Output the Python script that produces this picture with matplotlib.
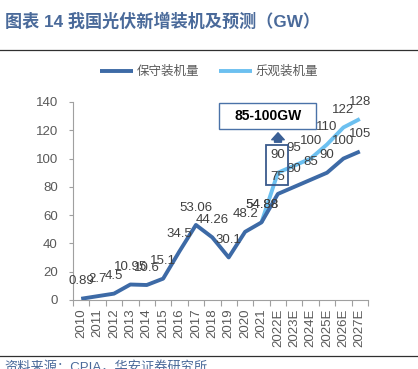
import matplotlib
matplotlib.use("Agg")
import matplotlib.pyplot as plt
import numpy as np
from matplotlib.patches import Rectangle, FancyArrowPatch

plt.rcParams['font.family'] = ['Liberation Sans', 'Noto Sans CJK SC', 'DejaVu Sans']

years = ["2010", "2011", "2012", "2013", "2014", "2015", "2016", "2017", "2018",
         "2019", "2020", "2021", "2022E", "2023E", "2024E", "2025E", "2026E", "2027E"]
conservative = [0.89, 2.7, 4.5, 10.95, 10.6, 15.1, 34.5, 53.06, 44.26, 30.1, 48.2,
                54.88, 75, 80, 85, 90, 100, 105]
optimistic = [np.nan] * 11 + [54.88, 90, 95, 100, 110, 122, 128]
cons_labels = ["0.89", "2.7", "4.5", "10.95", "10.6", "15.1", "34.5", "53.06", "44.26",
               "30.1", "48.2", "54.88", "75", "80", "85", "90", "100", "105"]
opt_labels = [None] * 11 + ["54.88", "90", "95", "100", "110", "122", "128"]
yticks = [0, 20, 40, 60, 80, 100, 120, 140]

W, H = 418, 369
fig = plt.figure(figsize=(W / 100, H / 100), dpi=100)
ax = fig.add_axes([73 / W, (H - 300) / H, (368 - 73) / W, (300 - 102) / H])

dark = "#3d6aa6"
light = "#6cc0f0"
grey = "#595959"

x = np.arange(len(years))
ax.plot(x, optimistic, color=light, lw=2.8, solid_capstyle='butt', label="乐观装机量", zorder=2)
ax.plot(x, conservative, color=dark, lw=2.8, solid_capstyle='butt', label="保守装机量", zorder=3)

for xi, v, t in zip(x, conservative, cons_labels):
    ax.annotate(t, (xi, v), xytext=(0, 12.5), textcoords='offset points',
                ha='center', va='center', fontsize=9.5, color="#404040", zorder=5)
for xi, v, t in zip(x, optimistic, opt_labels):
    if t is None:
        continue
    ax.annotate(t, (xi, v), xytext=(0, 12.5), textcoords='offset points',
                ha='center', va='center', fontsize=9.5, color="#404040", zorder=5)

ax.set_xlim(-0.5, len(years) - 0.5)
ax.set_ylim(0, 140)
ax.set_yticks(yticks)
ax.set_yticklabels([str(v) for v in yticks], fontsize=9.5, color=grey)
ax.tick_params(axis='y', length=3, pad=8, color="#a0a0a0", width=0.8)
ax.set_xticks(x)
ax.set_xticklabels(years, rotation=90, fontsize=9.5, color=grey)
ax.tick_params(axis='x', which='major', length=0, pad=6)
ax.set_xticks(np.arange(-0.5, len(years), 1), minor=True)
ax.tick_params(axis='x', which='minor', length=4, color="#a0a0a0", width=0.8)
for s in ['top', 'right']:
    ax.spines[s].set_visible(False)
for s in ['left', 'bottom']:
    ax.spines[s].set_color("#a0a0a0")
    ax.spines[s].set_linewidth(0.8)

def fx(px):
    return px / W
def fy(py):
    return (H - py) / H

small = Rectangle((fx(266), fy(185)), (288 - 266) / W, (185 - 145) / H,
                  transform=fig.transFigure, fill=False, edgecolor="#3a5a8c", lw=1.3, zorder=6)
fig.add_artist(small)
big = Rectangle((fx(219), fy(129)), (316 - 219) / W, (129 - 103) / H,
                transform=fig.transFigure, facecolor='white', edgecolor="#4a72a8", lw=1.0, zorder=6)
fig.add_artist(big)
fig.text(fx(268), fy(116), "85-100GW", ha='center', va='center', fontsize=10,
         fontweight='bold', color='black', zorder=7)
arr = FancyArrowPatch((fx(278), fy(145)), (fx(278), fy(130)), transform=fig.transFigure,
                      arrowstyle='simple,head_width=0.9,head_length=0.5,tail_width=0.5',
                      mutation_scale=10, color="#3a5f95", zorder=6)
fig.add_artist(arr)

ax.legend(loc='center', bbox_to_anchor=(fx(209), fy(72)), bbox_transform=fig.transFigure,
          ncol=2, frameon=False, fontsize=9, labelcolor=grey, handlelength=2.6,
          columnspacing=1.6, handletextpad=0.3, reverse=True)

fig.text(fx(5), fy(21), "图表 14 我国光伏新增装机及预测（GW）", ha='left', va='center',
         fontsize=12.3, fontweight='bold', color="#4a6a9a")
fig.add_artist(plt.Line2D([0, 1], [fy(50), fy(50)], transform=fig.transFigure,
                          color="#303030", lw=0.9))
fig.add_artist(plt.Line2D([0, 1], [fy(356), fy(356)], transform=fig.transFigure,
                          color="#303030", lw=0.9))
fig.text(fx(4), fy(368), "资料来源：CPIA，华安证券研究所", ha='left', va='center',
         fontsize=9.5, color="#4a6a9a")

fig.savefig("out.png", dpi=100, facecolor='white')
